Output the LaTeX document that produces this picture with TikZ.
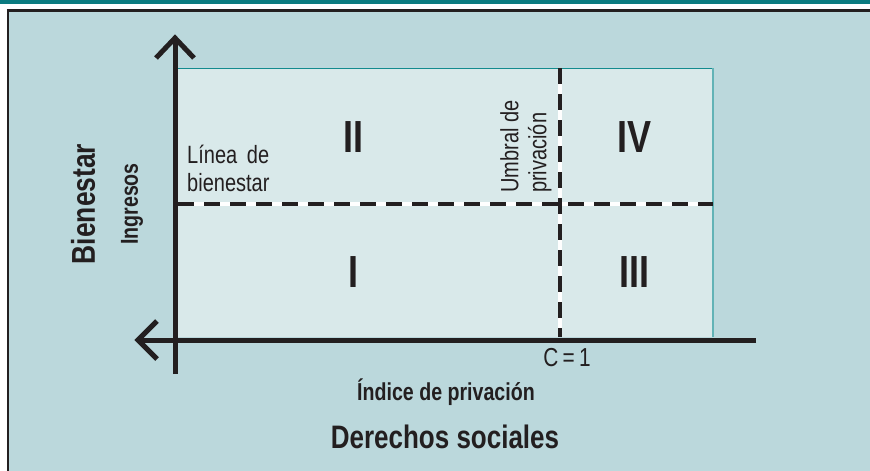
\documentclass[tikz,border=0pt]{standalone}
\usepackage{fontspec}
\newfontfamily\cond[FakeStretch=0.8]{Liberation Sans}
\definecolor{bgblue}{HTML}{BBD8DC}
\definecolor{panelc}{HTML}{D9E9EA}
\definecolor{tealtop}{HTML}{0B7B80}
\definecolor{tealedge}{HTML}{128B8E}
\definecolor{tealright}{HTML}{62B3B6}
\definecolor{ink}{HTML}{231F20}
\tikzset{
  axisline/.style={draw=ink, line width=5pt},
  barb/.style={draw=ink, line width=5pt, line join=miter},
  dashwhite/.style={draw=white, line width=4pt},
  dashblack/.style={draw=ink, line width=4.3pt, dash pattern=on 16pt off 10pt},
  roman/.style={font=\cond\bfseries\fontsize{45}{45}\selectfont, text=ink, inner sep=0pt},
  lbl/.style={font=\cond\fontsize{25}{28}\selectfont, text=ink, inner sep=0pt},
  blbl/.style={font=\cond\bfseries, text=ink, inner sep=0pt},
}
\begin{document}
\begin{tikzpicture}[x=1pt,y=-1pt]
\useasboundingbox (0,0) rectangle (870,471);
% background and frame
\fill[white] (0,0) rectangle (870,471);
\fill[tealtop] (0,0) rectangle (870,3.5);
\fill[bgblue] (8,10) rectangle (870,471);
\draw[ink, line width=2.5pt] (6.8,10.5) -- (870,10.5);
\draw[ink, line width=2.5pt] (8,9.3) -- (8,471);
% panel
\fill[panelc] (178,68) rectangle (713,337);
\draw[tealedge, line width=1pt] (178,68) -- (713,68);
\draw[tealright, line width=2pt] (713,68) -- (713,337);
% named points
\coordinate (hl) at (178,204);
\coordinate (hr) at (713,204);
\coordinate (vt) at (560,68);
\coordinate (vb) at (560,337);
\coordinate (ytop) at (175,38);
\coordinate (ybot) at (175,374);
\coordinate (xleft) at (138,340);
\coordinate (xright) at (756,340);
% dashed thresholds
\draw[dashwhite] (hl) -- (hr);
\draw[dashwhite] (vt) -- (vb);
\draw[dashblack] (hl) -- (hr);
\draw[dashblack] (vt) -- (vb);
% axes
\draw[axisline] (ybot) -- (ytop);
\draw[barb] (156,58) -- (ytop) -- (194,58);
\draw[axisline] (xright) -- (xleft);
\draw[barb] (157,321) -- (xleft) -- (157,359);
% quadrant labels
\node[roman] (q2) at (353,137) {II};
\node[roman] (q4) at (634,137) {IV};
\node[roman] (q1) at (353,272) {I};
\node[roman] (q3) at (634,272) {III};
% text labels
\node[lbl, align=left, anchor=north west] (linea) at (187,145) {Línea\, de\\bienestar};
\node[lbl, align=left, anchor=north west, rotate=90] (umbral) at (500,193) {Umbral de\\privación};
\node[lbl, font=\cond\fontsize{26}{28}\selectfont] (c1) at (567,358) {C\,=\,1};
\node[blbl, font=\cond\bfseries\fontsize{33}{36}\selectfont, rotate=90] (bien) at (83,204) {Bienestar};
\node[blbl, font=\cond\bfseries\fontsize{24.5}{28}\selectfont, rotate=90] (ingr) at (132,204) {Ingresos};
\node[blbl, font=\cond\bfseries\fontsize{24.5}{28}\selectfont] (indice) at (446,392) {Índice de privación};
\node[blbl, font=\cond\bfseries\fontsize{32.5}{36}\selectfont] (derechos) at (445,437) {Derechos sociales};
\end{tikzpicture}
\end{document}
